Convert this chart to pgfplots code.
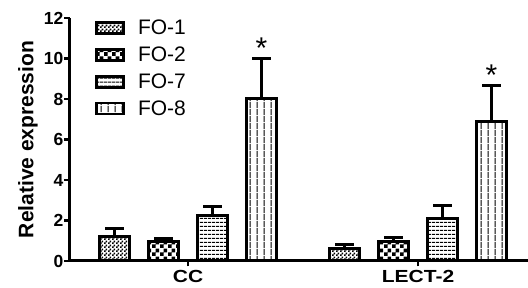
\documentclass[border=0pt]{standalone}
\usepackage{pgfplots}
\pgfplotsset{compat=1.18}
\usepackage{pgfplotstable}
\usepackage{fontspec}
\setmainfont{Liberation Sans}
\usetikzlibrary{patterns}

\pgfdeclarepatternformonly{finechecker}{\pgfpointorigin}{\pgfpoint{4pt}{4pt}}{\pgfpoint{4pt}{4pt}}{%
  \pgfpathrectangle{\pgfpointorigin}{\pgfpoint{2pt}{2pt}}%
  \pgfpathrectangle{\pgfpoint{2pt}{2pt}}{\pgfpoint{2pt}{2pt}}%
  \pgfusepath{fill}}
\pgfdeclarepatternformonly{coarsechecker}{\pgfpointorigin}{\pgfpoint{8pt}{8pt}}{\pgfpoint{8pt}{8pt}}{%
  \pgfpathrectangle{\pgfpointorigin}{\pgfpoint{4pt}{4pt}}%
  \pgfpathrectangle{\pgfpoint{4pt}{4pt}}{\pgfpoint{4pt}{4pt}}%
  \pgfusepath{fill}}
\pgfdeclarepatternformonly{hlinesp}{\pgfpointorigin}{\pgfpoint{4pt}{4pt}}{\pgfpoint{4pt}{4pt}}{%
  \pgfpathrectangle{\pgfpoint{0pt}{1.5pt}}{\pgfpoint{4pt}{1.1pt}}%
  \pgfusepath{fill}}
\pgfdeclarepatternformonly{vlinesp}{\pgfpointorigin}{\pgfpoint{6.5pt}{6.5pt}}{\pgfpoint{6.5pt}{6.5pt}}{%
  \pgfpathrectangle{\pgfpoint{2.75pt}{0pt}}{\pgfpoint{1.1pt}{6.5pt}}%
  \pgfusepath{fill}}

% x: 0 = CC, 1 = LECT-2 ; y = mean, e = SEM (upper only)
\pgfplotstableread{
x y e
0 1.22 0.37
1 0.62 0.185
}\foone
\pgfplotstableread{
x y e
0 0.98 0.155
1 0.98 0.185
}\fotwo
\pgfplotstableread{
x y e
0 2.23 0.475
1 2.10 0.645
}\foseven
\pgfplotstableread{
x y e
0 8.01 1.985
1 6.90 1.775
}\foeight

\begin{document}
\begin{tikzpicture}
\path[use as bounding box] (-70pt,-27pt) rectangle (458pt,261pt);
\begin{axis}[
  at={(0pt,0pt)}, anchor=south west,
  scale only axis, width=458pt, height=243pt,
  xmin=-0.513, xmax=1.478, ymin=0, ymax=12,
  axis x line*=bottom, axis y line*=left,
  axis line style={line width=3pt, -},
  ybar, bar width=30pt,
  xtick={0,1}, xticklabels={CC,LECT-2},
  ytick={0,2,4,6,8,10,12},
  tick align=outside, major tick length=5.5pt,
  tick style={line width=2.4pt, black},
  /pgf/number format/assume math mode=true,
  yticklabel style={font=\bfseries\fontsize{17.5}{17.5}\selectfont, inner sep=1pt},
  xticklabel style={font=\bfseries\fontsize{17.5}{17.5}\selectfont, xscale=1.2},
  ylabel={Relative expression},
  every axis y label/.style={at={(axis description cs:-0.092,0.5)}, rotate=90, anchor=center,
    font=\bfseries\fontsize{21}{21}\selectfont},
  legend style={draw=none, fill=none, at={(axis description cs:0.0546,1.0)}, anchor=north west,
    font=\fontsize{21}{24}\selectfont, row sep=6.6pt, inner sep=0pt,
    /tikz/every even column/.append style={column sep=0pt}},
  legend cell align=left,
  legend image code/.code={\draw[#1, line width=2.8pt] (0pt,-5.5pt) rectangle (27pt,5.5pt);},
  every axis plot/.append style={draw=black, line width=3pt},
  error bars/y dir=plus, error bars/y explicit,
  error bars/error bar style={line width=3pt},
  error bars/error mark options={rotate=90, mark size=9.5pt, line width=3pt},
]
\addplot[bar shift=-73.5pt, pattern=finechecker] table[x=x, y=y, y error=e] {\foone};
\addlegendentry{\hspace{11pt}FO-1}
\addplot[bar shift=-24.5pt, pattern=coarsechecker] table[x=x, y=y, y error=e] {\fotwo};
\addlegendentry{\hspace{11pt}FO-2}
\addplot[bar shift=24.5pt, pattern=hlinesp] table[x=x, y=y, y error=e] {\foseven};
\addlegendentry{\hspace{11pt}FO-7}
\addplot[bar shift=73.5pt, pattern=vlinesp] table[x=x, y=y, y error=e] {\foeight};
\addlegendentry{\hspace{11pt}FO-8}
\addplot[forget plot, bar shift=73.5pt, draw=none, fill=none,
  nodes near coords, point meta=explicit symbolic,
  every node near coord/.append style={anchor=base, yshift=-1.5pt, inner sep=0pt, font=\fontsize{30}{30}\selectfont}]
  coordinates {(0,10.06) [*] (1,8.74) [*]};
\end{axis}
\end{tikzpicture}
\end{document}
